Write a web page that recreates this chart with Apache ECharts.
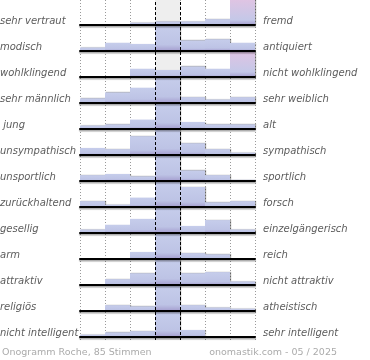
<!DOCTYPE html>
<html>
<head>
<meta charset="utf-8">
<script src="https://cdn.jsdelivr.net/npm/echarts@6/dist/echarts.min.js"></script>
<style>html,body{margin:0;padding:0;background:#fff}#c{width:370px;height:360px}</style>
</head>
<body>
<div id="c"></div>
<script>
// ---- data ----
const categories = ['1', '2', '3', '4', '5', '6', '7'];
const leftLabels = ['sehr vertraut', 'modisch', 'wohlklingend', 'sehr männlich', ' jung', 'unsympathisch', 'unsportlich', 'zurückhaltend', 'gesellig', 'arm', 'attraktiv', 'religiös', 'nicht intelligent'];
const rightLabels = ['fremd', 'antiquiert', 'nicht wohlklingend', 'sehr weiblich', 'alt', 'sympathisch', 'sportlich', 'forsch', 'einzelgängerisch', 'reich', 'nicht attraktiv', 'atheistisch', 'sehr intelligent'];
const totalVotes = 85;           // "85 Stimmen"
const visibleShare = 0.25;       // each row shows up to 25 % of votes
// votes per scale step (1..7)
const vVertraut    = [0, 0, 2, 3, 3, 5, 72];
const vModisch     = [3, 7, 6, 43, 9, 10, 7];
const vWohlklingend= [0, 0, 7, 6, 9, 7, 56];
const vMaennlich   = [4, 9, 13, 46, 5, 3, 5];
const vJung        = [3, 4, 8, 56, 6, 4, 4];
const vUnsympath   = [6, 5, 16, 41, 10, 5, 2];
const vUnsportlich = [5, 6, 4, 55, 9, 5, 1];
const vZurueck     = [5, 2, 8, 44, 17, 4, 5];
const vGesellig    = [3, 7, 12, 43, 6, 11, 3];
const vArm         = [0, 0, 6, 70, 5, 4, 0];
const vAttraktiv   = [0, 5, 10, 46, 10, 11, 3];
const vReligioes   = [0, 5, 4, 66, 5, 3, 2];
const vIntelligent = [2, 4, 5, 68, 6, 0, 0];
const rowsData = [vVertraut, vModisch, vWohlklingend, vMaennlich, vJung, vUnsympath, vUnsportlich, vZurueck, vGesellig, vArm, vAttraktiv, vReligioes, vIntelligent];
const footerLeft = 'Onogramm Roche, 85 Stimmen';
const footerRight = 'onomastik.com - 05 / 2025';

// ---- chart ----
const chart = echarts.init(document.getElementById('c'), null, {renderer: 'canvas'});
const yMax = totalVotes * visibleShare;
const PL = 80, PW = 175, ROW = 26, RH = 25;

const blueGrad = {type: 'linear', x: 0, y: 0, x2: 0, y2: 1, colorStops: [
  {offset: 0, color: '#c6cdeb'}, {offset: 0.75, color: '#bdc3e5'}, {offset: 1, color: '#a49dce'}]};
const pinkGrad = {type: 'linear', x: 0, y: 0, x2: 0, y2: 1, colorStops: [
  {offset: 0, color: '#dfc4e3'}, {offset: 0.8, color: '#c4c8e8'}, {offset: 1, color: '#a49dce'}]};

const grids = [], xAxes = [], yAxes = [], series = [], graphics = [];
rowsData.forEach((vals, i) => {
  grids.push({left: PL, width: PW, top: ROW * i, height: RH, containLabel: false});
  xAxes.push({type: 'category', gridIndex: i, data: categories, boundaryGap: true,
    axisLine: {show: true, lineStyle: {color: '#000', width: 2, shadowColor: 'rgba(0,0,0,0.35)', shadowOffsetY: 1.5, shadowBlur: 1}},
    axisTick: {show: false}, axisLabel: {show: false}, splitLine: {show: false}, z: 4});
  yAxes.push({type: 'value', gridIndex: i, min: 0, max: yMax, show: false, splitLine: {show: false}});
  series.push({type: 'bar', xAxisIndex: i, yAxisIndex: i, barCategoryGap: '0%', clip: true, silent: true, z: 3,
    data: vals.map((v, k) => ({value: v, itemStyle: {color: (v > yMax && k !== 3) ? pinkGrad : blueGrad}})),
    itemStyle: {shadowColor: 'rgba(0,0,0,0.35)', shadowOffsetX: 1, shadowBlur: 1}});
  const cy = ROW * i + RH - 5;
  graphics.push({type: 'text', left: 0, top: cy - 4, style: {text: leftLabels[i], fill: '#5c5c5c', font: 'italic 10px "DejaVu Sans"'}});
  graphics.push({type: 'text', left: 263, top: cy - 4, style: {text: rightLabels[i], fill: '#5c5c5c', font: 'italic 10px "DejaVu Sans"'}});
});
// background grid for column guides
const bg = rowsData.length;
grids.push({left: PL, width: PW, top: 0, height: 340});
xAxes.push({type: 'value', gridIndex: bg, min: 0, max: 7, interval: 1, show: true,
  axisLine: {show: false}, axisTick: {show: false}, axisLabel: {show: false},
  splitLine: {show: true, lineStyle: {color: '#9a9a9a', width: 1, type: [1, 2]}}});
yAxes.push({type: 'value', gridIndex: bg, min: 0, max: 1, show: false});
series.push({type: 'line', xAxisIndex: bg, yAxisIndex: bg, data: [[0, 0]], symbol: 'none', silent: true, z: 0,
  lineStyle: {opacity: 0},
  markArea: {silent: true, itemStyle: {color: '#eeeeee'}, data: [[{xAxis: 3}, {xAxis: 4}]]}});
series.push({type: 'line', xAxisIndex: bg, yAxisIndex: bg, data: [[0, 0]], symbol: 'none', silent: true, z: 10,
  lineStyle: {opacity: 0},
  markLine: {silent: true, symbol: 'none', label: {show: false}, animation: false,
    lineStyle: {color: '#000', width: 1, type: [3, 2]}, data: [{xAxis: 3}, {xAxis: 4}]}});

graphics.push({type: 'text', left: 2, top: 348, style: {text: footerLeft, fill: '#ababab', font: '9.5px "DejaVu Sans"'}});
graphics.push({type: 'text', right: 33, top: 348, style: {text: footerRight, fill: '#ababab', font: '9.5px "DejaVu Sans"'}});

chart.setOption({
  animation: false,
  grid: grids, xAxis: xAxes, yAxis: yAxes, series: series,
  graphic: graphics
});
</script>
</body>
</html>
